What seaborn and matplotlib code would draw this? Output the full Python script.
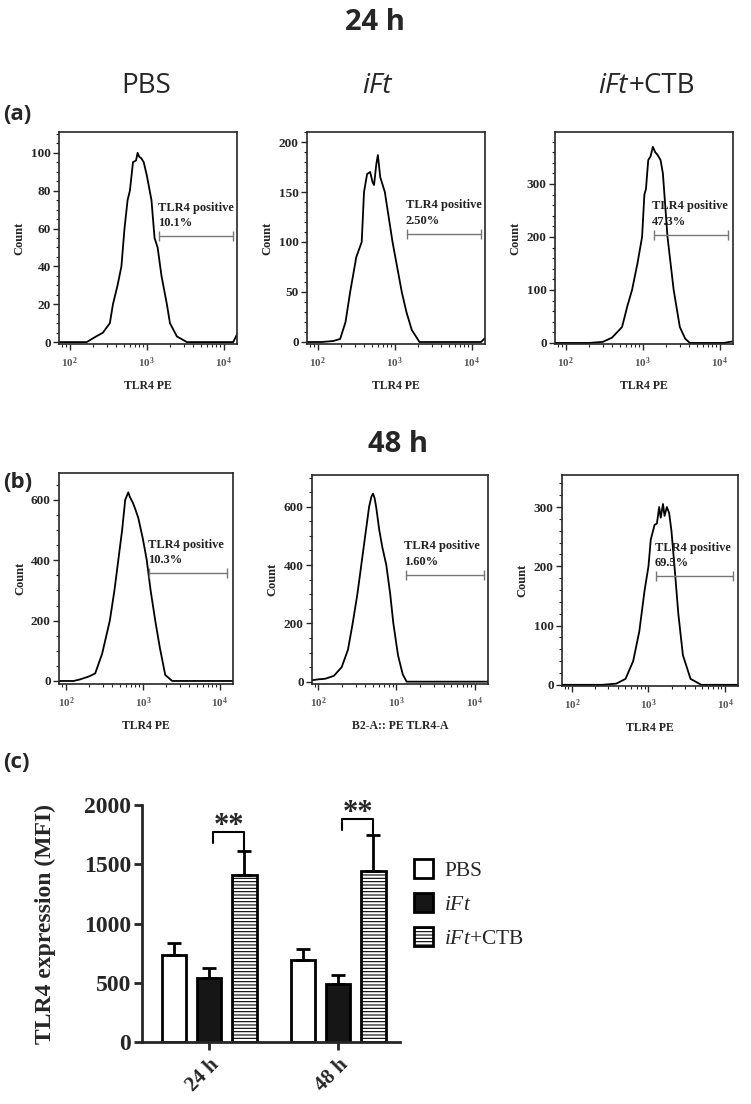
import numpy as np
import pandas as pd
import matplotlib
matplotlib.use("Agg")
import matplotlib.pyplot as plt
import seaborn as sns
from matplotlib.ticker import LogLocator, LogFormatterSciNotation, MultipleLocator, NullFormatter
from matplotlib.patches import Patch

# ---- flow histograms: log10(TLR4 PE) and event counts ----
pbs24_log = [1.86, 2.22, 2.30, 2.43, 2.52, 2.56, 2.62, 2.67, 2.71, 2.75, 2.78, 2.82, 2.86, 2.88,
             2.90, 2.93, 2.96, 3.00, 3.06, 3.10, 3.14, 3.19, 3.26, 3.30, 3.39, 3.52, 4.12, 4.17]
pbs24_cnt = [0, 0, 2, 5, 10, 20, 30, 40, 60, 75, 80, 95, 96, 100,
             98, 97, 95, 88, 75, 55, 50, 35, 20, 10, 3, 0, 0, 4]
ift24_log = [1.86, 2.05, 2.20, 2.29, 2.36, 2.42, 2.50, 2.57, 2.60, 2.64, 2.68, 2.71, 2.73, 2.76,
             2.78, 2.81, 2.87, 2.92, 2.97, 3.03, 3.09, 3.15, 3.22, 3.32, 4.12, 4.17]
ift24_cnt = [0, 0, 1, 3, 20, 50, 85, 100, 150, 168, 170, 160, 157, 178,
             187, 165, 150, 125, 100, 75, 50, 30, 12, 0, 0, 4]
ctb24_log = [1.86, 2.30, 2.48, 2.60, 2.73, 2.80, 2.86, 2.93, 2.99, 3.02, 3.04, 3.07, 3.10, 3.13,
             3.16, 3.19, 3.23, 3.26, 3.32, 3.40, 3.48, 3.55, 3.61, 4.05, 4.17]
ctb24_cnt = [0, 0, 2, 10, 30, 70, 100, 150, 200, 280, 290, 345, 352, 370,
             360, 355, 345, 320, 200, 100, 30, 8, 0, 0, 3]
pbs48_log = [1.91, 2.10, 2.18, 2.30, 2.38, 2.47, 2.57, 2.63, 2.68, 2.73, 2.77, 2.81, 2.83, 2.85,
             2.87, 2.90, 2.94, 3.00, 3.05, 3.10, 3.16, 3.22, 3.29, 3.38, 3.50, 4.17]
pbs48_cnt = [0, 0, 5, 15, 25, 90, 200, 300, 400, 500, 600, 625, 610, 600,
             590, 570, 540, 470, 400, 300, 200, 110, 20, 0, 0, 0]
ift48_log = [1.92, 2.00, 2.09, 2.20, 2.30, 2.38, 2.44, 2.50, 2.55, 2.60, 2.65, 2.68, 2.70, 2.72,
             2.74, 2.78, 2.82, 2.87, 2.92, 2.96, 3.02, 3.08, 3.13, 3.25, 4.17]
ift48_cnt = [5, 8, 10, 20, 50, 110, 200, 300, 400, 500, 600, 635, 645, 630,
             600, 520, 460, 400, 300, 200, 90, 25, 0, 0, 0]
ctb48_log = [1.87, 2.40, 2.58, 2.70, 2.80, 2.88, 2.95, 3.00, 3.03, 3.08, 3.11, 3.14, 3.16, 3.19,
             3.21, 3.24, 3.27, 3.30, 3.34, 3.39, 3.45, 3.55, 3.69, 4.17]
ctb48_cnt = [0, 0, 2, 10, 40, 90, 160, 200, 245, 270, 272, 300, 282, 305,
             285, 300, 290, 260, 200, 120, 50, 10, 0, 0]

# gates (log10 start, log10 end, count level) and % positive
gate_lo = [3.16, 3.16, 3.14, 3.08, 3.12, 3.10]
gate_hi = [4.12, 4.12, 4.10, 4.09, 4.12, 4.10]
gate_y = [56, 108, 204, 357, 366, 183]
pct_pos = ["10.1%", "2.50%", "47.3%", "10.3%", "1.60%", "69.5%"]
x_labels = ["TLR4 PE", "TLR4 PE", "TLR4 PE", "TLR4 PE", "B2-A:: PE TLR4-A", "TLR4 PE"]

# ---- bar chart (c) ----
times = ["24 h", "48 h"]
groups = ["PBS", "iFt", "iFt+CTB"]
mfi_24 = [730, 540, 1410]
mfi_48 = [690, 490, 1445]
sem_24 = [105, 85, 205]
sem_48 = [95, 75, 300]
sig_top = [1770, 1880]
sig_foot = [1680, 1790]

sns.set_style("ticks")
plt.rcParams["font.family"] = ["Liberation Serif", "DejaVu Serif"]
plt.rcParams["mathtext.fontset"] = "custom"
plt.rcParams["mathtext.rm"] = "Liberation Serif"
plt.rcParams["mathtext.it"] = "Liberation Serif:italic"
plt.rcParams["mathtext.bf"] = "Liberation Serif:bold"
plt.rcParams["hatch.linewidth"] = 0.8

W, H = 751, 1104
fig = plt.figure(figsize=(W / 100, H / 100), dpi=100)


def px_rect(x0, y0, x1, y1):
    return [x0 / W, 1 - y1 / H, (x1 - x0) / W, (y1 - y0) / H]


hist_boxes = [(59, 132, 237, 344), (307, 132, 485, 344), (555, 132, 733, 344),
              (59, 473, 233, 684), (312, 475, 488, 684), (562, 475, 738, 686)]
hist_xlim = [(1.86, 4.17)] * 3 + [(1.91, 4.17), (1.92, 4.17), (1.87, 4.17)]
hist_ylim = [(-1, 111), (-2, 210), (-2, 398), (-10, 689), (-8, 709), (-2, 354)]
hist_major = [20, 50, 100, 200, 200, 100]
hist_minor = [5, 10, 20, 50, 50, 20]
hist_ymax_tick = [100, 200, 300, 600, 600, 300]

curves = [(pbs24_log, pbs24_cnt), (ift24_log, ift24_cnt), (ctb24_log, ctb24_cnt),
          (pbs48_log, pbs48_cnt), (ift48_log, ift48_cnt), (ctb48_log, ctb48_cnt)]

for i, (lg, cnt) in enumerate(curves):
    ax = fig.add_axes(px_rect(*hist_boxes[i]))
    ax.set_xscale("log")
    df = pd.DataFrame({"pe": 10 ** np.array(lg), "count": cnt})
    sns.lineplot(data=df, x="pe", y="count", ax=ax, color="black", lw=1.3,
                 estimator=None, sort=False)
    ax.set_xlim(10 ** hist_xlim[i][0], 10 ** hist_xlim[i][1])
    ax.set_ylim(*hist_ylim[i])
    ax.set_yticks(np.arange(0, hist_ymax_tick[i] + 1, hist_major[i]))
    ax.yaxis.set_minor_locator(MultipleLocator(hist_minor[i]))
    ax.xaxis.set_major_locator(LogLocator(base=10, numticks=10))
    ax.xaxis.set_major_formatter(LogFormatterSciNotation())
    ax.xaxis.set_minor_locator(LogLocator(base=10, subs=np.arange(2, 10), numticks=20))
    ax.xaxis.set_minor_formatter(NullFormatter())
    ax.tick_params(which="major", length=4, width=1, direction="out", pad=2)
    ax.tick_params(which="minor", length=2, width=0.8, direction="out")
    ax.tick_params(axis="y", labelsize=9.5)
    ax.tick_params(axis="x", labelsize=8, labelcolor="#555555", pad=4)
    for t in ax.get_yticklabels() + ax.get_xticklabels():
        t.set_fontweight("bold")
    for s in ax.spines.values():
        s.set_visible(True)
        s.set_linewidth(1.2)
    ax.set_ylabel("Count", fontsize=9, fontweight="bold")
    ax.yaxis.set_label_coords(-0.19, 0.5)
    ax.set_xlabel(x_labels[i], fontsize=8.5, fontweight="bold")
    ax.xaxis.set_label_coords(0.5, -0.17)

    gx = 10 ** np.array([gate_lo[i], gate_hi[i]])
    ax.plot(gx, [gate_y[i], gate_y[i]], color="#777777", lw=1, marker="|",
            markersize=7, markeredgewidth=1)
    ax.annotate("TLR4 positive\n" + pct_pos[i], xy=(gx[0], gate_y[i]),
                xytext=(-1, 5), textcoords="offset points", ha="left", va="bottom",
                fontsize=9, fontweight="bold", color="#222222", linespacing=1.4)

# ---- panel (c) ----
axc = fig.add_axes(px_rect(142, 805, 400, 1042))
rows = []
for t, vals in zip(times, [mfi_24, mfi_48]):
    for g, v in zip(groups, vals):
        rows.append({"time": t, "group": g, "mfi": v})
bar_df = pd.DataFrame(rows)
bar_colors = ["white", "#161616", "white"]
sns.barplot(data=bar_df, x="time", y="mfi", hue="group", hue_order=groups,
            palette=bar_colors, width=0.82, gap=0.31, edgecolor="black",
            linewidth=2, errorbar=None, legend=False, ax=axc)
bar_conts = list(axc.containers)
for bar in bar_conts[2]:
    bar.set_hatch("-----")

sems = [[sem_24[k], sem_48[k]] for k in range(3)]
centers = []
for k, cont in enumerate(bar_conts):
    xs = [b.get_x() + b.get_width() / 2 for b in cont]
    ys = [b.get_height() for b in cont]
    centers.append(xs)
    axc.errorbar(xs, ys, yerr=[[0, 0], sems[k]], fmt="none", ecolor="black",
                 elinewidth=2, capsize=5, capthick=2, zorder=1)

for j in range(2):
    xl = centers[1][j] + 0.03
    xr = centers[2][j]
    top_ctb = bar_conts[2][j].get_height() + sems[2][j]
    axc.plot([xl, xl, xr, xr], [sig_foot[j], sig_top[j], sig_top[j], top_ctb],
             color="black", lw=1.5)
    axc.annotate("**", xy=((xl + xr) / 2, sig_top[j]), xytext=(0, -6),
                 textcoords="offset points", ha="center", va="bottom",
                 fontsize=22, fontweight="bold")

axc.set_xlim(-0.52, 1.48)
axc.set_ylim(0, 2000)
axc.set_yticks([0, 500, 1000, 1500, 2000])
sns.despine(ax=axc)
for s in ["left", "bottom"]:
    axc.spines[s].set_linewidth(2)
axc.tick_params(axis="both", length=6, width=2)
axc.tick_params(axis="y", labelsize=17, pad=2)
axc.tick_params(axis="x", labelsize=15)
for t in axc.get_yticklabels():
    t.set_fontweight("bold")
for t in axc.get_xticklabels():
    t.set_fontweight("bold")
    t.set_rotation(45)
    t.set_ha("right")
    t.set_rotation_mode("anchor")
axc.set_xlabel("")
axc.set_ylabel("TLR4 expression (MFI)", fontsize=17, fontweight="bold")
axc.yaxis.set_label_coords(-0.335, 0.5)

handles = [Patch(facecolor=bar_colors[k], edgecolor="black", linewidth=2,
                 hatch="-----" if k == 2 else None) for k in range(3)]
leg_labels = ["PBS", "$iFt$", "$iFt$+CTB"]
fig.legend(handles, leg_labels, loc="upper left", bbox_to_anchor=(414 / W, 1 - 859 / H),
           frameon=False, fontsize=15.5, handlelength=0.9, handleheight=1.0,
           labelspacing=0.55, handletextpad=0.5, borderpad=0, borderaxespad=0)

# ---- headings ----
sans = "Open Sans"
fig.text(375 / W, 1 - 30 / H, "24 h", family=sans, fontsize=21, fontweight="bold",
         ha="center", va="baseline")
fig.text(398 / W, 1 - 452 / H, "48 h", family=sans, fontsize=21, fontweight="bold",
         ha="center", va="baseline")
fig.text(146 / W, 1 - 93 / H, "PBS", family=sans, fontsize=20, ha="center", va="baseline")
fig.text(377 / W, 1 - 93 / H, "iFt", family=sans, fontsize=20, style="italic",
         ha="center", va="baseline")
fig.text(628 / W, 1 - 93 / H, "iFt", family=sans, fontsize=20, style="italic",
         ha="right", va="baseline")
fig.text(629 / W, 1 - 93 / H, "+CTB", family=sans, fontsize=20, ha="left", va="baseline")
for lab, y in [("(a)", 114), ("(b)", 483), ("(c)", 762)]:
    fig.text(3 / W, 1 - y / H, lab, family=sans, fontsize=16, fontweight="bold",
             ha="left", va="center")

fig.savefig("out.png", dpi=100)
